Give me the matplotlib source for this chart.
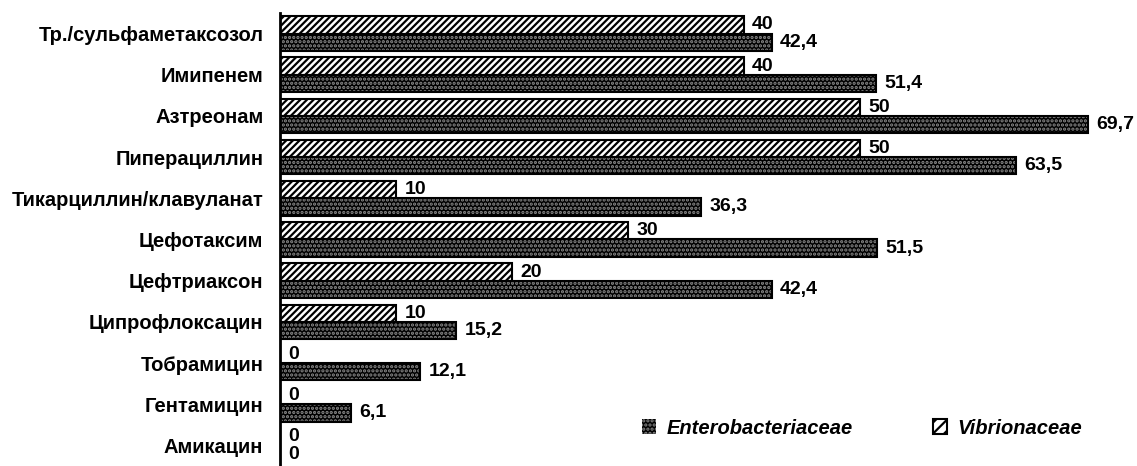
import numpy as np
import matplotlib
matplotlib.use("Agg")
import matplotlib.pyplot as plt
import matplotlib.patches as mpatches

plt.rcParams['font.family'] = ['Liberation Sans', 'DejaVu Sans']
plt.rcParams['hatch.linewidth'] = 1.6

# data
drugs = ["Тр./сульфаметаксозол", "Имипенем", "Азтреонам", "Пиперациллин",
         "Тикарциллин/клавуланат", "Цефотаксим", "Цефтриаксон",
         "Ципрофлоксацин", "Тобрамицин", "Гентамицин", "Амикацин"]
vibrio = [40, 40, 50, 50, 10, 30, 20, 10, 0, 0, 0]
entero = [42.4, 51.4, 69.7, 63.5, 36.3, 51.5, 42.4, 15.2, 12.1, 6.1, 0]

y = np.arange(len(drugs))
h = 0.42

fig = plt.figure(figsize=(11.37, 4.66), dpi=100)
ax = fig.add_axes([280 / 1137, 0.0, 1 - 280 / 1137, 1 - 13 / 466])

# Vibrionaceae - white with diagonal hatch
ax.barh(y - h / 2, vibrio, height=h, color="white", edgecolor="black",
        hatch="/////", linewidth=1.5)

# Enterobacteriaceae - dark dotted fill
ax.barh(y + h / 2, entero, height=h, color="black", edgecolor="#8a8a8a",
        hatch="....", linewidth=0)
ax.barh(y + h / 2, entero, height=h, color="none", edgecolor="black",
        linewidth=1.5)


def fmt(v):
    if v == int(v):
        return str(int(v))
    return ("%.1f" % v).replace(".", ",")


for i in range(len(drugs)):
    ax.annotate(fmt(vibrio[i]), (vibrio[i], y[i] - h / 2), xytext=(6, 0),
                textcoords="offset points", va="center", ha="left",
                fontsize=14, fontweight="bold")
    ax.annotate(fmt(entero[i]), (entero[i], y[i] + h / 2), xytext=(6, 0),
                textcoords="offset points", va="center", ha="left",
                fontsize=14, fontweight="bold")

ax.set_yticks(y)
ax.set_yticklabels(drugs, fontsize=14.5, fontweight="bold")
ax.tick_params(axis="y", length=0, pad=12)
ax.set_xticks([])
ax.set_xlim(0, 73.9)
ax.set_ylim(len(drugs) - 0.5, -0.5)
for s in ["top", "right", "bottom"]:
    ax.spines[s].set_visible(False)
ax.spines["left"].set_linewidth(2)

# legend
ent_patch = mpatches.Patch(facecolor="black", edgecolor="#8a8a8a", hatch="....",
                           linewidth=0)
vib_patch = mpatches.Patch(facecolor="white", edgecolor="black", hatch="///",
                           linewidth=1.5)
fig.legend([ent_patch, vib_patch], ["Enterobacteriaceae", "Vibrionaceae"],
           loc="center", bbox_to_anchor=(862 / 1137, 1 - 428 / 466),
           ncol=2, frameon=False, handlelength=0.7, handleheight=0.7,
           handletextpad=0.5, columnspacing=4.0,
           prop={"size": 14.5, "weight": "bold", "style": "italic"})

fig.savefig("out.png", dpi=100)
